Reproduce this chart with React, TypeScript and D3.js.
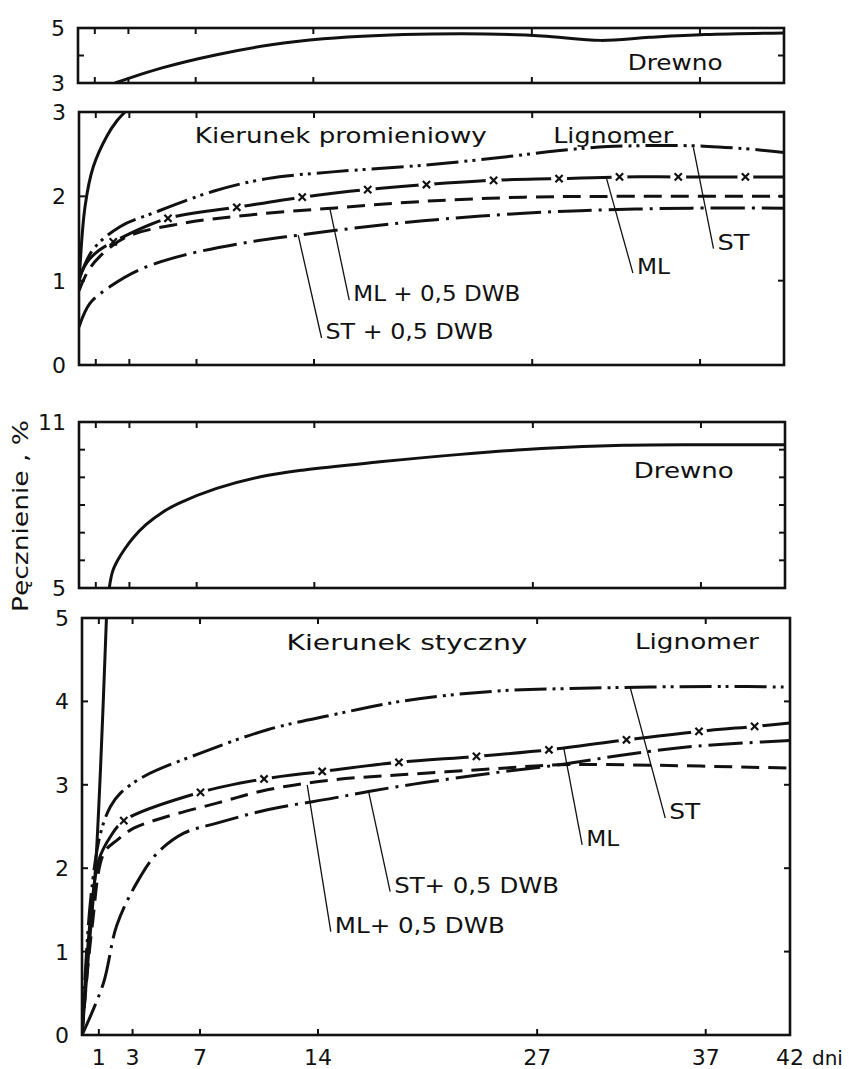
import { useRef, useEffect } from 'react';
import * as d3 from 'd3';

type Pt = [number, number];

// x axis (days)
const X_TICKS = [1, 3, 7, 14, 27, 37];
const X_LABELS = [1, 3, 7, 14, 27, 37, 42];

// y ticks / labels per panel
const RAD_WOOD_TICKS = [4];
const RAD_WOOD_LABELS = [3, 5];
const RAD_LIG_TICKS = [1, 2];
const RAD_LIG_LABELS = [0, 1, 2, 3];
const TAN_WOOD_TICKS = [6, 7, 8, 9, 10];
const TAN_WOOD_LABELS = [5, 11];
const TAN_LIG_TICKS = [1, 2, 3, 4];
const TAN_LIG_LABELS = [0, 1, 2, 3, 4, 5];

// Kierunek promieniowy – drewno
const radWood: Pt[] = [
  [2.2, 3.0], [5.0, 3.55], [8.25, 4.03], [11.5, 4.39], [14.6, 4.61], [17.9, 4.73],
  [21.1, 4.78], [24.3, 4.78], [27.6, 4.71], [31.1, 4.55], [34.0, 4.66], [37.3, 4.76], [42, 4.82],
];
// Kierunek promieniowy – Lignomer
const radWoodLow: Pt[] = [[0, 0.95], [0.36, 1.88], [0.85, 2.35], [1.65, 2.71], [2.24, 2.89], [2.74, 3.0]];
const radST: Pt[] = [
  [0, 1.0], [0.8, 1.36], [2.44, 1.64], [4.4, 1.8], [8.0, 2.06], [11.2, 2.21], [15.1, 2.29],
  [20.6, 2.37], [25.5, 2.47], [28.5, 2.54], [31.5, 2.59], [36.5, 2.6], [38.5, 2.58], [40.0, 2.56], [42, 2.52],
];
const radMLLead: Pt[] = [[0, 1.05], [0.6, 1.25], [1.2, 1.36]];
const radMLMarks: Pt[] = [
  [2.04, 1.46], [5.3, 1.74], [9.4, 1.87], [13.3, 1.99], [17.2, 2.08], [20.7, 2.14],
  [24.7, 2.19], [28.6, 2.21], [32.2, 2.23], [35.7, 2.23], [39.7, 2.23],
];
const radMLTail: Pt[] = [[42, 2.23]];
const radMLDwb: Pt[] = [
  [0, 0.88], [0.5, 1.1], [1.2, 1.28], [2.84, 1.52], [6.2, 1.68], [10.2, 1.78], [15.1, 1.86],
  [20.5, 1.94], [26.5, 1.99], [32.5, 2.0], [42, 2.0],
];
const radSTDwb: Pt[] = [
  [0, 0.45], [0.65, 0.73], [1.85, 0.93], [3.6, 1.13], [6.2, 1.3], [10.2, 1.46], [13.1, 1.54],
  [17.1, 1.64], [20.5, 1.71], [26.5, 1.8], [31.5, 1.84], [36.5, 1.86], [42, 1.86],
];

// Kierunek styczny – drewno
const tanWood: Pt[] = [
  [1.8, 5.0], [2.0, 5.6], [2.3, 6.0], [2.71, 6.4], [3.2, 6.8], [4.0, 7.3], [5.0, 7.75], [5.93, 8.06],
  [8.19, 8.6], [10.8, 9.02], [13.3, 9.26], [17.9, 9.56], [22.7, 9.83], [27.5, 10.04], [32.4, 10.16],
  [37.2, 10.18], [42, 10.18],
];
// Kierunek styczny – Lignomer
const tanWoodLow: Pt[] = [[0, 0], [0.4, 1.0], [0.8, 2.0], [1.1, 3.2], [1.45, 5.0]];
const tanST: Pt[] = [
  [0, 0], [0.5, 1.6], [1.1, 2.42], [1.69, 2.74], [2.28, 2.9], [3.67, 3.1], [7.03, 3.38], [11.0, 3.66],
  [14.9, 3.84], [18.9, 4.0], [24.3, 4.12], [30.3, 4.16], [38.2, 4.18], [42, 4.17],
];
const tanMLLead: Pt[] = [[0, 0], [0.5, 1.4], [1.0, 2.1], [1.69, 2.38]];
const tanMLMarks: Pt[] = [
  [2.48, 2.57], [7.03, 2.91], [10.8, 3.07], [14.25, 3.16], [18.8, 3.27], [23.4, 3.34],
  [27.7, 3.42], [32.3, 3.54], [36.6, 3.64], [39.9, 3.7],
];
const tanMLTail: Pt[] = [[42, 3.74]];
const tanMLDwb: Pt[] = [
  [0, 0], [0.6, 1.3], [1.3, 2.18], [2.1, 2.34], [3.07, 2.48], [5.05, 2.62], [8.0, 2.78], [11.0, 2.94],
  [14.9, 3.06], [18.9, 3.12], [24.3, 3.19], [28.3, 3.24], [32.2, 3.24], [42, 3.2],
];
const tanSTDwb: Pt[] = [
  [0, 0], [1.27, 0.62], [2.07, 1.32], [3.35, 1.86], [4.46, 2.18], [6.04, 2.42], [8.0, 2.54], [11.0, 2.7],
  [14.9, 2.84], [17.0, 2.92], [20.4, 3.03], [24.3, 3.14], [28.3, 3.24], [32.2, 3.36], [36.2, 3.46], [42, 3.53],
];

// labels with leader lines: [from day, from value], [to day, to value]
interface Note { text: string; from: Pt; to: Pt; len: number }
const radNotes: Note[] = [
  { text: 'ST', from: [36.6, 2.58], to: [37.8, 1.38], len: 32 },
  { text: 'ML', from: [31.4, 2.23], to: [33.0, 1.09], len: 33 },
  { text: 'ML + 0,5 DWB', from: [14.95, 1.85], to: [16.1, 0.77], len: 167 },
  { text: 'ST + 0,5 DWB', from: [13.06, 1.54], to: [14.45, 0.32], len: 168 },
];
const tanNotes: Note[] = [
  { text: 'ST', from: [32.53, 4.16], to: [34.6, 2.6], len: 31 },
  { text: 'ML', from: [28.58, 3.44], to: [29.67, 2.28], len: 33 },
  { text: 'ST+ 0,5 DWB', from: [17.0, 2.92], to: [18.28, 1.72], len: 165 },
  { text: 'ML+ 0,5 DWB', from: [13.36, 3.0], to: [14.76, 1.24], len: 170 },
];

const W = 849;
const H = 1069;
const FONT = '"DejaVu Sans", sans-serif';
const INK = '#111';
const DASH = { st: '32 6 3 5 3 6', mlDwb: '18 9', stDwb: '34 7 3 7' };

interface Box { x0: number; x1: number; y0: number; y1: number; dom: [number, number] }
const BOXES: Record<string, Box> = {
  radWood: { x0: 78, x1: 784, y0: 28, y1: 83, dom: [3, 5] },
  radLig: { x0: 79, x1: 784, y0: 112, y1: 365, dom: [0, 3] },
  tanWood: { x0: 79, x1: 785, y0: 422, y1: 588, dom: [5, 11] },
  tanLig: { x0: 82, x1: 790, y0: 618, y1: 1035, dom: [0, 5] },
};

export default function App() {
  const svgRef = useRef<SVGSVGElement>(null);

  useEffect(() => {
    if (!svgRef.current) return;
    const svg = d3.select(svgRef.current);
    svg.selectAll('*').remove();
    svg.append('rect').attr('width', W).attr('height', H).attr('fill', '#fff');
    const defs = svg.append('defs');

    const panel = (key: string, yTicks: number[], yLabels: number[]) => {
      const b = BOXES[key];
      const x = d3.scaleLinear().domain([0, 42]).range([b.x0, b.x1]);
      const y = d3.scaleLinear().domain(b.dom).range([b.y1, b.y0]);
      const g = svg.append('g');

      defs.append('clipPath').attr('id', `clip-${key}`)
        .append('rect').attr('x', b.x0).attr('y', b.y0)
        .attr('width', b.x1 - b.x0).attr('height', b.y1 - b.y0);

      // inward ticks on all four sides
      const tk = 6;
      X_TICKS.forEach(d => {
        g.append('line').attr('x1', x(d)).attr('x2', x(d)).attr('y1', b.y0).attr('y2', b.y0 + tk);
        g.append('line').attr('x1', x(d)).attr('x2', x(d)).attr('y1', b.y1).attr('y2', b.y1 - tk);
      });
      yTicks.forEach(v => {
        g.append('line').attr('x1', b.x0).attr('x2', b.x0 + tk).attr('y1', y(v)).attr('y2', y(v));
        g.append('line').attr('x1', b.x1).attr('x2', b.x1 - tk).attr('y1', y(v)).attr('y2', y(v));
      });
      g.selectAll('line').attr('stroke', INK).attr('stroke-width', 2);

      g.append('rect').attr('x', b.x0).attr('y', b.y0)
        .attr('width', b.x1 - b.x0).attr('height', b.y1 - b.y0)
        .attr('fill', 'none').attr('stroke', INK).attr('stroke-width', 2.6);

      g.selectAll('text.ylab').data(yLabels).enter().append('text')
        .attr('x', b.x0 - 13).attr('y', v => y(v)).attr('dy', '0.36em')
        .attr('text-anchor', 'end').attr('font-family', FONT).attr('font-size', 22)
        .attr('fill', INK).text(v => v);

      const plot = svg.append('g').attr('clip-path', `url(#clip-${key})`);
      const line = d3.line<Pt>().x(d => x(d[0])).y(d => y(d[1])).curve(d3.curveCatmullRom.alpha(0.5));
      return { x, y, plot, line, g };
    };

    const curve = (p: ReturnType<typeof panel>, data: Pt[], dash: string | null, width = 3) => {
      p.plot.append('path').attr('d', p.line(data) ?? '')
        .attr('fill', 'none').attr('stroke', INK).attr('stroke-width', width)
        .attr('stroke-dasharray', dash);
    };

    // ML: long dashes broken by x markers
    const mlCurve = (p: ReturnType<typeof panel>, key: string, lead: Pt[], marks: Pt[], tail: Pt[]) => {
      const mask = defs.append('mask').attr('id', `ml-${key}`)
        .attr('maskUnits', 'userSpaceOnUse').attr('x', 0).attr('y', 0).attr('width', W).attr('height', H);
      mask.append('rect').attr('width', W).attr('height', H).attr('fill', '#fff');
      marks.forEach(d => mask.append('circle').attr('cx', p.x(d[0])).attr('cy', p.y(d[1])).attr('r', 8).attr('fill', '#000'));
      p.plot.append('path').attr('d', p.line([...lead, ...marks, ...tail]) ?? '')
        .attr('fill', 'none').attr('stroke', INK).attr('stroke-width', 3)
        .attr('mask', `url(#ml-${key})`);
      const s = 3.6;
      marks.forEach(d => {
        const cx = p.x(d[0]);
        const cy = p.y(d[1]);
        p.plot.append('path')
          .attr('d', `M${cx - s},${cy - s}L${cx + s},${cy + s}M${cx - s},${cy + s}L${cx + s},${cy - s}`)
          .attr('stroke', INK).attr('stroke-width', 2.2);
      });
    };

    const label = (p: ReturnType<typeof panel>, text: string, at: Pt, len: number, size = 22) => {
      svg.append('text').attr('x', p.x(at[0])).attr('y', p.y(at[1]))
        .attr('font-family', FONT).attr('font-size', size).attr('fill', INK)
        .attr('textLength', len).attr('lengthAdjust', 'spacingAndGlyphs')
        .text(text);
    };

    const notes = (p: ReturnType<typeof panel>, list: Note[]) => {
      list.forEach(n => {
        svg.append('line')
          .attr('x1', p.x(n.from[0])).attr('y1', p.y(n.from[1]))
          .attr('x2', p.x(n.to[0])).attr('y2', p.y(n.to[1]))
          .attr('stroke', INK).attr('stroke-width', 1.3);
        svg.append('text').attr('x', p.x(n.to[0]) + 4).attr('y', p.y(n.to[1]) + 1)
          .attr('font-family', FONT).attr('font-size', 22).attr('fill', INK)
          .attr('textLength', n.len).attr('lengthAdjust', 'spacingAndGlyphs')
          .text(n.text);
      });
    };

    // panel 1
    const p1 = panel('radWood', RAD_WOOD_TICKS, RAD_WOOD_LABELS);
    curve(p1, radWood, null);
    label(p1, 'Drewno', [32.7, 3.48], 95, 21);

    // panel 2
    const p2 = panel('radLig', RAD_LIG_TICKS, RAD_LIG_LABELS);
    curve(p2, radWoodLow, null);
    curve(p2, radST, DASH.st);
    mlCurve(p2, 'rad', radMLLead, radMLMarks, radMLTail);
    curve(p2, radMLDwb, DASH.mlDwb);
    curve(p2, radSTDwb, DASH.stDwb);
    label(p2, 'Kierunek  promieniowy', [6.9, 2.63], 292);
    label(p2, 'Lignomer', [28.25, 2.63], 120);
    notes(p2, radNotes);

    // panel 3
    const p3 = panel('tanWood', TAN_WOOD_TICKS, TAN_WOOD_LABELS);
    curve(p3, tanWood, null);
    label(p3, 'Drewno', [33.0, 8.96], 100, 21);

    // panel 4
    const p4 = panel('tanLig', TAN_LIG_TICKS, TAN_LIG_LABELS);
    curve(p4, tanWoodLow, null);
    curve(p4, tanST, DASH.st);
    mlCurve(p4, 'tan', tanMLLead, tanMLMarks, tanMLTail);
    curve(p4, tanMLDwb, DASH.mlDwb);
    curve(p4, tanSTDwb, DASH.stDwb);
    label(p4, 'Kierunek  styczny', [12.13, 4.62], 241);
    label(p4, 'Lignomer', [32.8, 4.63], 124);
    notes(p4, tanNotes);

    // x labels
    const b4 = BOXES.tanLig;
    svg.selectAll('text.xlab').data(X_LABELS).enter().append('text')
      .attr('x', d => p4.x(d)).attr('y', b4.y1 + 30)
      .attr('text-anchor', 'middle').attr('font-family', FONT).attr('font-size', 22)
      .attr('fill', INK).text(d => d);
    svg.append('text').attr('x', p4.x(42) + 22).attr('y', b4.y1 + 30)
      .attr('font-family', FONT).attr('font-size', 20).attr('fill', INK).text('dni');

    // y title
    svg.append('text').attr('transform', 'translate(28,516) rotate(-90)')
      .attr('text-anchor', 'middle').attr('font-family', FONT).attr('font-size', 22)
      .attr('fill', INK).attr('textLength', 192).attr('lengthAdjust', 'spacingAndGlyphs')
      .text('Pęcznienie , %');
  }, []);

  return (
    <svg ref={svgRef} width={W} height={H}
      style={{ position: 'absolute', left: 0, top: 0, display: 'block' }} />
  );
}
